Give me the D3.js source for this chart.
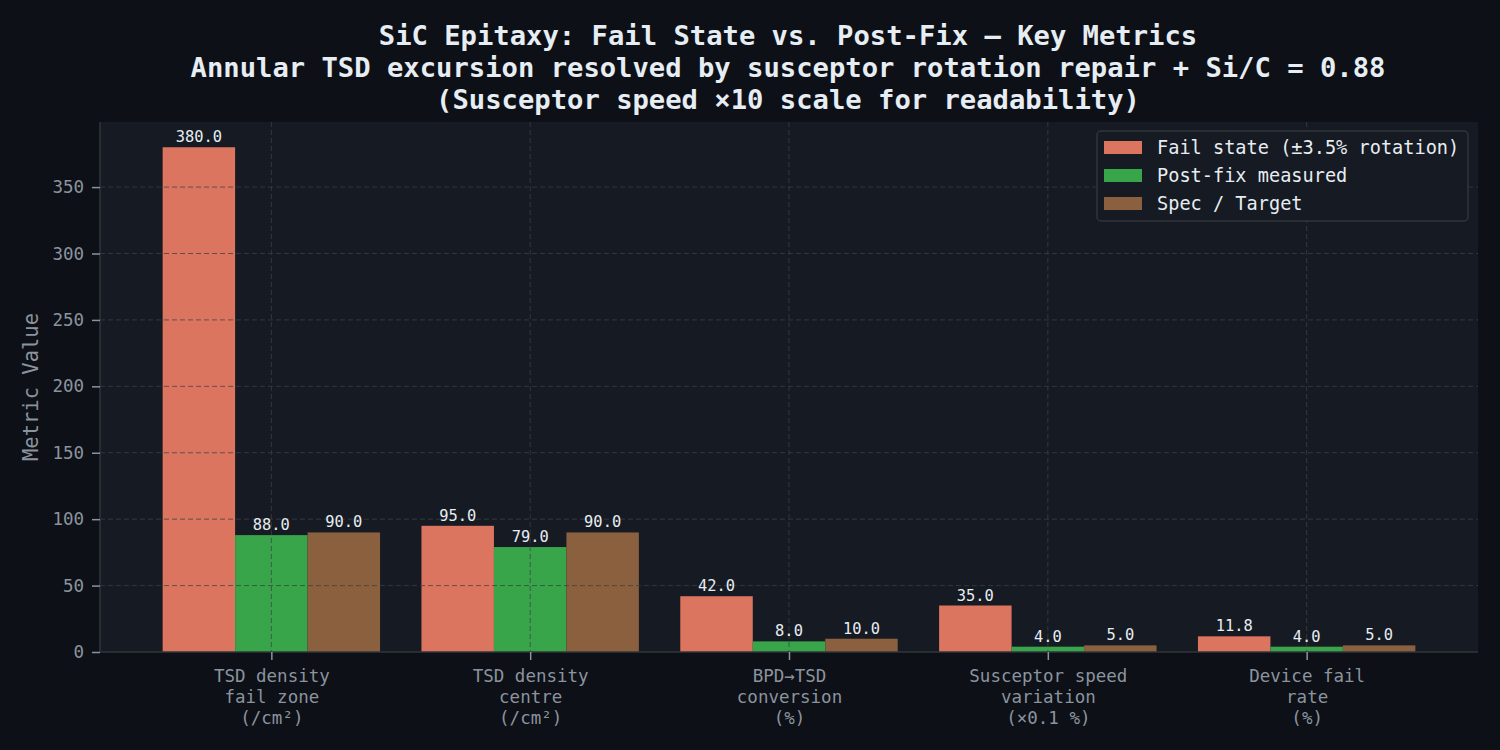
<!DOCTYPE html>
<html>
<head>
<meta charset="utf-8">
<script src="https://cdn.jsdelivr.net/npm/d3@7/dist/d3.min.js"></script>
<style>
  body { margin: 0; background: #0d1017; }
  svg { display: block; font-family: "DejaVu Sans Mono", monospace; }
</style>
</head>
<body>
<svg id="chart" width="1500" height="750"></svg>
<script>
// data
var categories = [
  ["TSD density", "fail zone", "(/cm\u00b2)"],
  ["TSD density", "centre", "(/cm\u00b2)"],
  ["BPD\u2192TSD", "conversion", "(%)"],
  ["Susceptor speed", "variation", "(\u00d70.1 %)"],
  ["Device fail", "rate", "(%)"]
];
var failValues = [380.0, 95.0, 42.0, 35.0, 11.8];
var fixValues = [88.0, 79.0, 8.0, 4.0, 4.0];
var specValues = [90.0, 90.0, 10.0, 5.0, 5.0];
var seriesNames = ["Fail state (\u00b13.5% rotation)", "Post-fix measured", "Spec / Target"];
var seriesColors = ["#dc755f", "#39a54b", "#8a603e"];
var yTicks = [0, 50, 100, 150, 200, 250, 300, 350];
var titleLines = [
  "SiC Epitaxy: Fail State vs. Post-Fix \u2014 Key Metrics",
  "Annular TSD excursion resolved by susceptor rotation repair + Si/C = 0.88",
  "(Susceptor speed \u00d710 scale for readability)"
];

var series = [failValues, fixValues, specValues];

var svg = d3.select("#chart");
var margin = {top: 122, right: 22, bottom: 98, left: 100};
var innerWidth = svg.attr("width") - margin.left - margin.right;
var innerHeight = svg.attr("height") - margin.top - margin.bottom;

svg.append("rect")
  .attr("width", 1500).attr("height", 750)
  .attr("fill", "#0d1017");

// title
svg.append("g").selectAll("text")
  .data(titleLines)
  .enter().append("text")
  .attr("x", 788)
  .attr("y", (d, i) => 45 + i * 32)
  .attr("text-anchor", "middle")
  .attr("fill", "#e6edf3")
  .attr("font-weight", "bold")
  .attr("font-size", "27.2px")
  .text(d => d);

var g = svg.append("g")
  .attr("transform", `translate(${margin.left}, ${margin.top})`);

g.append("rect")
  .attr("width", innerWidth).attr("height", innerHeight)
  .attr("fill", "#161a22");

// category index scale, matplotlib-ish margins
var barW = 0.28;
var x = d3.scaleLinear()
  .domain([-0.42 - 0.242, categories.length - 1 + 0.42 + 0.242])
  .range([0, innerWidth]);
var y = d3.scaleLinear().domain([0, 399]).range([innerHeight, 0]);

// bars
series.forEach(function(vals, s) {
  var off = (s - 1) * barW;
  var bg = g.append("g");
  bg.selectAll("rect")
    .data(vals)
    .enter().append("rect")
    .attr("x", (d, i) => x(i + off - barW / 2))
    .attr("width", x(barW) - x(0))
    .attr("y", d => y(d))
    .attr("height", d => innerHeight - y(d))
    .attr("fill", seriesColors[s]);
});

// grid, drawn over the bars
var grid = g.append("g")
  .attr("stroke", "#3c4049")
  .attr("stroke-opacity", 0.75)
  .attr("stroke-dasharray", "5,3")
  .attr("stroke-width", 1);
grid.selectAll(".hgrid")
  .data(yTicks.slice(1))
  .enter().append("line")
  .attr("x1", 0).attr("x2", innerWidth)
  .attr("y1", d => y(d)).attr("y2", d => y(d));
grid.selectAll(".vgrid")
  .data(categories)
  .enter().append("line")
  .attr("x1", (d, i) => x(i)).attr("x2", (d, i) => x(i))
  .attr("y1", 0).attr("y2", innerHeight);

// value labels
series.forEach(function(vals, s) {
  var off = (s - 1) * barW;
  g.append("g").selectAll("text")
    .data(vals)
    .enter().append("text")
    .attr("x", (d, i) => x(i + off))
    .attr("y", d => y(d) - 5)
    .attr("text-anchor", "middle")
    .attr("fill", "#e6edf3")
    .attr("font-size", "15.4px")
    .text(d => d.toFixed(1));
});

// y axis
var yAxis = g.append("g")
  .call(d3.axisLeft(y).tickValues(yTicks).tickSize(8).tickPadding(8));
yAxis.select(".domain").attr("stroke", "#30363d").attr("stroke-width", 1.5)
  .attr("d", `M0,0V${innerHeight}`);
yAxis.selectAll(".tick line").attr("stroke", "#8b949e").attr("stroke-width", 1.5);
yAxis.selectAll(".tick text")
  .attr("fill", "#8b949e")
  .attr("font-size", "17.5px")
  .attr("font-family", "DejaVu Sans Mono, monospace");

// x axis
var xAxis = g.append("g")
  .attr("transform", `translate(0, ${innerHeight})`)
  .call(d3.axisBottom(x).tickValues(d3.range(categories.length)).tickSize(8).tickFormat(""));
xAxis.select(".domain").attr("stroke", "#30363d").attr("stroke-width", 1.5)
  .attr("d", `M0,0H${innerWidth}`);
xAxis.selectAll(".tick line").attr("stroke", "#8b949e").attr("stroke-width", 1.5);
xAxis.selectAll(".tick").each(function(d, i) {
  var t = d3.select(this).append("text")
    .attr("fill", "#8b949e")
    .attr("font-size", "17.5px")
    .attr("font-family", "DejaVu Sans Mono, monospace")
    .attr("text-anchor", "middle");
  categories[i].forEach(function(line, k) {
    t.append("tspan").attr("x", 0).attr("y", 30 + k * 21).text(line);
  });
});

// y label
g.append("text")
  .attr("transform", "rotate(-90)")
  .attr("x", -innerHeight / 2)
  .attr("y", -62)
  .attr("text-anchor", "middle")
  .attr("fill", "#8b949e")
  .attr("font-size", "20.5px")
  .text("Metric Value");

// legend
var legend = g.append("g")
  .attr("transform", `translate(${997}, ${9})`);
legend.append("rect")
  .attr("width", 371).attr("height", 90)
  .attr("rx", 4)
  .attr("fill", "#161a22")
  .attr("stroke", "#30363d")
  .attr("stroke-width", 1.5);
var items = legend.selectAll(".item")
  .data(seriesNames)
  .enter().append("g")
  .attr("transform", (d, i) => `translate(7, ${10 + i * 28})`);
items.append("rect")
  .attr("width", 38).attr("height", 13)
  .attr("fill", (d, i) => seriesColors[i]);
items.append("text")
  .attr("x", 53)
  .attr("y", 13)
  .attr("fill", "#e6edf3")
  .attr("font-size", "18.6px")
  .text(d => d);
</script>
</body>
</html>
